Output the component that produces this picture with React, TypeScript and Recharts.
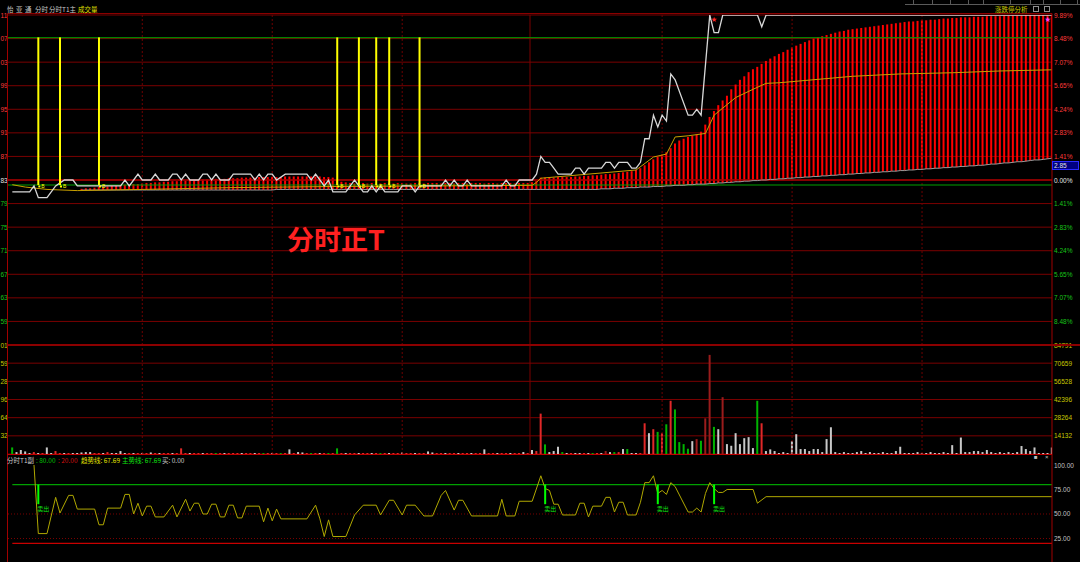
import React from "react";
import { ComposedChart, Bar, Line, XAxis, YAxis, CartesianGrid, ReferenceLine, Cell } from "recharts";

// ---------------- DATA ----------------
const BASE_PRICE = 2.83;
const MINUTES = 241;
const X_DOMAIN: [number, number] = [-1, 240];

const PRICE_TICKS = [3.11, 3.07, 3.03, 2.99, 2.95, 2.91, 2.87, 2.83, 2.79, 2.75, 2.71, 2.67, 2.63, 2.59, 2.55];
// the left price column is cut by the window edge: only the last two digits show
const PRICE_LEFT_LABELS = ["11", "07", "03", "99", "95", "91", "87", "83", "79", "75", "71", "67", "63", "59", ""];
const PCT_RIGHT_LABELS = ["9.89%", "8.48%", "7.07%", "5.65%", "4.24%", "2.83%", "1.41%", "0.00%", "1.41%", "2.83%", "4.24%", "5.65%", "7.07%", "8.48%", ""];

const VOL_TICKS = [84791, 70659, 56528, 42396, 28264, 14132, 0];
const VOL_LEFT_LABELS = ["01", "59", "28", "96", "64", "32", ""];
const VOL_LABELS = ["84791", "70659", "56528", "42396", "28264", "14132", ""];

const IND_TICKS = [100, 75, 50, 25];
const IND_LABELS = ["100.00", "75.00", "50.00", "25.00"];

const VLINES_DASHED = [30, 60, 90, 150, 180, 210];
const MIDDAY = 119.5;

// white price line vertices [minute, price]
const PRICE_PTS: [number, number][] = [
  [0, 2.81], [4, 2.81], [5, 2.82], [6, 2.80], [8, 2.80], [10, 2.82], [12, 2.83], [14, 2.83], [15, 2.82], [25, 2.82],
  [26, 2.83], [27, 2.82], [28, 2.83], [29, 2.84], [30, 2.83], [32, 2.83], [33, 2.84], [34, 2.83], [36, 2.83], [37, 2.84],
  [38, 2.84], [39, 2.83], [40, 2.84], [41, 2.83], [43, 2.83], [44, 2.84], [45, 2.84], [46, 2.83], [47, 2.84], [48, 2.83],
  [50, 2.83], [51, 2.84], [55, 2.84], [56, 2.83], [57, 2.84], [58, 2.83], [59, 2.84], [60, 2.84], [61, 2.83], [63, 2.84],
  [68, 2.84], [69, 2.83], [70, 2.84], [71, 2.83], [72, 2.82], [73, 2.83], [74, 2.81], [77, 2.81], [78, 2.82], [79, 2.83],
  [80, 2.82], [81, 2.81], [82, 2.81], [83, 2.82], [84, 2.81], [85, 2.82], [86, 2.81], [89, 2.81], [90, 2.82], [92, 2.82],
  [93, 2.81], [94, 2.82], [99, 2.82], [100, 2.83], [101, 2.82], [102, 2.83], [103, 2.82], [104, 2.82], [105, 2.83], [106, 2.82],
  [113, 2.82], [114, 2.83], [115, 2.82], [116, 2.82], [117, 2.83], [120, 2.83], [121, 2.84], [122, 2.87], [123, 2.86], [124, 2.86],
  [125, 2.85], [126, 2.84], [129, 2.84], [130, 2.85], [131, 2.85], [132, 2.84], [133, 2.85], [136, 2.85], [137, 2.86], [138, 2.86],
  [139, 2.85], [140, 2.86], [142, 2.86], [143, 2.85], [144, 2.85], [145, 2.86], [146, 2.90], [147, 2.90], [148, 2.94], [149, 2.92],
  [150, 2.94], [151, 2.93], [152, 3.01], [153, 3.00], [156, 2.94], [157, 2.94], [158, 2.95], [159, 2.94], [161, 3.11], [162, 3.08],
  [163, 3.08], [164, 3.11], [172, 3.11], [173, 3.09], [174, 3.11], [240, 3.11],
];

// average price line vertices
const AVG_PTS: [number, number][] = [
  [0, 2.822], [3, 2.818], [8, 2.814], [15, 2.812], [30, 2.814], [50, 2.817], [75, 2.819], [100, 2.820], [120, 2.821],
  [121, 2.826], [122, 2.833], [144, 2.847], [148, 2.869], [151, 2.874], [153, 2.903], [156, 2.905], [160, 2.909],
  [162, 2.94], [164, 2.952], [167, 2.97], [171, 2.984], [174, 2.994], [177, 2.995], [194, 3.006], [205, 3.010],
  [217, 3.012], [228, 3.015], [240, 3.017],
];

// red range bars (main indicator), minute 16..240
const BAR_START = 16;
const BAR_HI = [
  2.815, 2.816, 2.816, 2.817, 2.818, 2.818, 2.819, 2.820, 2.820, 2.821,
  2.822, 2.822, 2.823, 2.823, 2.824, 2.825, 2.825, 2.826, 2.826, 2.827,
  2.827, 2.828, 2.828, 2.829, 2.829, 2.830, 2.830, 2.830, 2.831, 2.831,
  2.831, 2.832, 2.832, 2.832, 2.833, 2.833, 2.833, 2.834, 2.834, 2.834,
  2.834, 2.835, 2.835, 2.835, 2.835, 2.835, 2.835, 2.836, 2.836, 2.836,
  2.836, 2.836, 2.836, 2.836, 2.836, 2.836, 2.835, 2.835, 2.834, 2.830,
  2.827, 2.826, 2.825, 2.824, 2.825, 2.825, 2.824, 2.825, 2.824, 2.824,
  2.825, 2.825, 2.824, 2.825, 2.825, 2.824, 2.824, 2.825, 2.825, 2.824,
  2.825, 2.825, 2.825, 2.824, 2.825, 2.825, 2.824, 2.825, 2.825, 2.824,
  2.825, 2.825, 2.825, 2.824, 2.825, 2.825, 2.824, 2.825, 2.825, 2.825,
  2.824, 2.825, 2.825, 2.825, 2.826, 2.828, 2.834, 2.834, 2.834, 2.834,
  2.835, 2.835, 2.835, 2.835, 2.836, 2.836, 2.837, 2.837, 2.838, 2.838,
  2.839, 2.840, 2.840, 2.841, 2.842, 2.843, 2.844, 2.845, 2.847, 2.850,
  2.855, 2.860, 2.865, 2.869, 2.873, 2.877, 2.884, 2.892, 2.897, 2.900,
  2.903, 2.905, 2.907, 2.912, 2.924, 2.937, 2.947, 2.957, 2.965, 2.973,
  2.984, 2.992, 3.000, 3.006, 3.013, 3.018, 3.022, 3.027, 3.032, 3.036,
  3.040, 3.044, 3.047, 3.051, 3.055, 3.058, 3.061, 3.064, 3.067, 3.070,
  3.072, 3.074, 3.076, 3.078, 3.080, 3.082, 3.083, 3.085, 3.086, 3.087,
  3.088, 3.089, 3.090, 3.091, 3.092, 3.093, 3.094, 3.095, 3.096, 3.097,
  3.098, 3.099, 3.099, 3.100, 3.101, 3.101, 3.102, 3.102, 3.103, 3.104,
  3.104, 3.105, 3.105, 3.106, 3.106, 3.106, 3.107, 3.107, 3.107, 3.108,
  3.108, 3.108, 3.108, 3.109, 3.109, 3.109, 3.109, 3.109, 3.110, 3.110,
  3.110, 3.110, 3.110, 3.110, 3.110,
];
const BAR_LO = [
  2.813, 2.813, 2.813, 2.813, 2.813, 2.813, 2.813, 2.813, 2.813, 2.813,
  2.813, 2.813, 2.813, 2.813, 2.813, 2.813, 2.813, 2.813, 2.813, 2.813,
  2.813, 2.813, 2.813, 2.813, 2.813, 2.813, 2.813, 2.813, 2.813, 2.813,
  2.813, 2.813, 2.813, 2.813, 2.813, 2.813, 2.813, 2.813, 2.813, 2.813,
  2.813, 2.813, 2.813, 2.813, 2.813, 2.814, 2.814, 2.814, 2.814, 2.814,
  2.814, 2.814, 2.814, 2.814, 2.814, 2.814, 2.814, 2.814, 2.814, 2.814,
  2.814, 2.814, 2.814, 2.814, 2.814, 2.814, 2.814, 2.814, 2.814, 2.814,
  2.814, 2.814, 2.814, 2.814, 2.814, 2.814, 2.814, 2.814, 2.814, 2.814,
  2.814, 2.814, 2.814, 2.814, 2.814, 2.814, 2.814, 2.814, 2.814, 2.814,
  2.814, 2.814, 2.814, 2.814, 2.814, 2.814, 2.814, 2.814, 2.814, 2.814,
  2.814, 2.814, 2.814, 2.814, 2.814, 2.814, 2.814, 2.814, 2.814, 2.814,
  2.814, 2.814, 2.814, 2.814, 2.814, 2.814, 2.814, 2.814, 2.814, 2.814,
  2.815, 2.815, 2.815, 2.816, 2.816, 2.816, 2.817, 2.817, 2.817, 2.818,
  2.818, 2.818, 2.819, 2.819, 2.819, 2.820, 2.820, 2.821, 2.821, 2.821,
  2.822, 2.822, 2.823, 2.823, 2.823, 2.824, 2.824, 2.825, 2.825, 2.826,
  2.826, 2.827, 2.827, 2.828, 2.828, 2.829, 2.829, 2.830, 2.830, 2.831,
  2.831, 2.832, 2.832, 2.833, 2.833, 2.834, 2.834, 2.835, 2.835, 2.836,
  2.836, 2.837, 2.837, 2.838, 2.838, 2.839, 2.839, 2.840, 2.840, 2.841,
  2.841, 2.842, 2.842, 2.843, 2.843, 2.844, 2.844, 2.845, 2.845, 2.846,
  2.846, 2.847, 2.847, 2.848, 2.848, 2.849, 2.849, 2.850, 2.850, 2.851,
  2.851, 2.852, 2.852, 2.853, 2.853, 2.854, 2.854, 2.855, 2.855, 2.856,
  2.857, 2.857, 2.858, 2.859, 2.859, 2.860, 2.861, 2.861, 2.862, 2.863,
  2.864, 2.864, 2.865, 2.866, 2.867,
];

// yellow buy signals (minutes) between the two green lines
const SIGNAL_T = [6, 11, 20, 75, 80, 84, 87, 94];
const SIGNAL_LOW = 2.8215;
const SIGNAL_HIGH = 3.072;
const SIGNAL_MARK = 2.819;
const STARS: [number, number, string][] = [[162, 3.103, "#ff2a2a"], [239, 3.103, "#ff40ff"]];

// volume per minute
const VOLUME = [
  5100, 1500, 3100, 2000, 800, 1500, 800, 800, 5100, 800,
  2300, 800, 800, 800, 800, 800, 1200, 1500, 1500, 800,
  800, 800, 1500, 800, 800, 2300, 800, 800, 800, 800,
  800, 800, 1200, 800, 800, 800, 800, 800, 800, 4400,
  800, 800, 800, 800, 800, 800, 800, 800, 800, 800,
  800, 800, 800, 800, 800, 800, 800, 800, 800, 800,
  800, 800, 800, 800, 3600, 800, 1500, 1200, 800, 800,
  800, 800, 800, 800, 800, 4400, 800, 800, 800, 800,
  800, 800, 800, 800, 800, 800, 800, 800, 800, 800,
  1200, 800, 800, 800, 800, 800, 2000, 1200, 800, 800,
  800, 800, 800, 800, 800, 800, 800, 800, 800, 3600,
  800, 800, 800, 800, 800, 800, 800, 800, 1500, 800,
  3100, 2300, 31400, 7470, 1500, 2300, 5650, 1500, 800, 800,
  800, 800, 800, 800, 800, 800, 800, 2300, 1500, 1500,
  1500, 3850, 3850, 800, 800, 800, 23900, 16200, 19300, 17200,
  16200, 23100, 41400, 34700, 9250, 7700, 4100, 10000, 11600, 10300,
  27700, 77100, 21100, 19300, 44200, 7700, 6400, 16200, 7700, 12300,
  13100, 4600, 41400, 23900, 2300, 3600, 2300, 800, 1500, 800,
  10000, 15400, 3850, 3850, 2300, 3850, 3850, 1500, 11600, 20800,
  1500, 800, 1500, 800, 800, 1500, 2300, 800, 1500, 800,
  800, 1500, 800, 800, 2300, 5650, 800, 800, 800, 1500,
  800, 800, 1500, 800, 800, 1500, 800, 6900, 800, 12800,
  1500, 1500, 2300, 2300, 1500, 3100, 1500, 800, 1500, 800,
  1500, 800, 1500, 6200, 3850, 2300, 5100, 800, 800, 800,
  5100,
];
const VOL_COLOR_CODES = [
  "gwwwwrwrww", "rrwrwwwwwr", "rwrwwwwrwr", "wrwrwrrwrr", "rwrrwrrgrw",
  "rrrwrrwrgr", "wrgrwrwwrg", "rwrgrgrwrr", "wrrwrgrwrr", "wrrwrrwwrr",
  "wrrwrrwrrw", "rrwrrwrrwr", "wrrgwwwgwr", "wwrwgrwdwg", "rwgwwrrwrg",
  "rgrggggwdg", "ddgwdwwwww", "wwgrwwwwww", "wwwwwwwwww", "wwwwwwwwww",
  "wwwwwwwwww", "wwwwwwwwww", "wwwwwwwwww", "wwwwwwwwww", "w",
].join("");

// sub indicator (趋势线) vertices [minute, value]
const IND_PTS: [number, number][] = [
  [5, 100], [6, 30], [8, 30], [10, 67], [11, 51], [13, 69], [14, 69], [15, 55], [19, 55], [20, 39],
  [21, 39], [22, 56], [25, 56], [26, 70], [27, 70], [28, 50], [29, 61], [30, 48], [31, 58], [32, 58],
  [33, 47], [35, 47], [37, 59], [38, 47], [40, 65], [41, 53], [42, 61], [43, 61], [44, 50], [45, 50],
  [46, 60], [47, 60], [48, 47], [49, 47], [50, 59], [51, 59], [52, 46], [53, 46], [54, 58], [57, 58],
  [58, 42], [59, 56], [60, 43], [61, 55], [62, 45], [68, 45], [70, 59], [71, 45], [72, 27], [73, 44],
  [74, 27], [77, 27], [79, 49], [81, 59], [84, 59], [85, 49], [87, 64], [88, 64], [90, 49], [91, 59],
  [93, 59], [95, 48], [97, 48], [99, 69], [100, 74], [102, 54], [103, 64], [104, 64], [106, 48], [112, 48],
  [113, 65], [114, 48], [116, 48], [117, 63], [120, 63], [122, 89], [123, 76], [124, 74], [125, 60], [126, 60],
  [127, 49], [130, 49], [131, 61], [132, 61], [133, 47], [134, 58], [136, 58], [137, 67], [138, 67], [139, 52],
  [140, 62], [141, 62], [142, 49], [144, 49], [145, 62], [146, 82], [147, 82], [148, 89], [149, 71], [150, 74],
  [151, 70], [152, 82], [153, 78], [156, 52], [157, 52], [158, 56], [159, 52], [160, 71], [161, 82], [162, 76],
  [163, 72], [164, 72], [165, 75], [171, 75], [172, 61], [174, 67.69], [240, 67.69],
];
const SELL_T = [6, 123, 149, 162];
const SELL_TOP = 80;
const SELL_BOTTOM = 60;
const SELL_LABEL_AT = 56;

// ---------------- TABLE ----------------
const priceMap = new Map(PRICE_PTS);
const avgMap = new Map(AVG_PTS);
const indMap = new Map(IND_PTS);
const starMap = new Map(STARS.map((s) => [s[0], s]));

const rows = Array.from({ length: MINUTES }, (_, t) => {
  const k = t - BAR_START;
  const hasBar = k >= 0 && k < BAR_HI.length;
  return {
    t,
    px: priceMap.has(t) ? priceMap.get(t) : null,
    avg: avgMap.has(t) ? avgMap.get(t) : null,
    rb: hasBar ? [BAR_LO[k], BAR_HI[k]] : null,
    lo: hasBar ? BAR_LO[k] : null,
    vol: VOLUME[t],
    vc: VOL_COLOR_CODES[t],
    ind: indMap.has(t) ? indMap.get(t) : null,
    sig: SIGNAL_T.includes(t) ? SIGNAL_MARK : null,
    star: starMap.has(t) ? starMap.get(t)![1] : null,
    starColor: starMap.has(t) ? starMap.get(t)![2] : null,
    sell: SELL_T.includes(t) ? SELL_LABEL_AT : null,
  };
});

// ---------------- STYLE ----------------
const W = 1080;
const RIGHT_M = 28;
const AXIS_W = 8;
const NUM_FONT = "'Liberation Sans', Arial, sans-serif";
const CJK_FONT = "'Noto Sans CJK SC', 'Noto Sans', sans-serif";
const GRID = "#7a0000";
const VOL_COLORS: Record<string, string> = { r: "#e02828", d: "#9a1c1c", g: "#00b400", w: "#c8c8c8" };

const findIdx = (ticks: number[], v: number) => ticks.findIndex((x) => Math.abs(x - v) < 1e-6);

const MainTick = (props: any) => {
  const { y, payload } = props;
  const i = findIdx(PRICE_TICKS, payload.value);
  if (i < 0 || !PRICE_LEFT_LABELS[i]) return <g />;
  const c = i < 7 ? "#ff3a3a" : i === 7 ? "#e6e6e6" : "#19c419";
  return (
    <g>
      <text x={0.5} y={y + 2.5} fill={c} fontSize={6.5} fontFamily={NUM_FONT}>{PRICE_LEFT_LABELS[i]}</text>
      <text x={1054} y={y + 2.5} fill={c} fontSize={6.5} fontFamily={NUM_FONT}>{PCT_RIGHT_LABELS[i]}</text>
    </g>
  );
};

const VolTick = (props: any) => {
  const { y, payload } = props;
  const i = findIdx(VOL_TICKS, payload.value);
  if (i < 0 || !VOL_LABELS[i]) return <g />;
  return (
    <g>
      <text x={0.5} y={y + 2.5} fill="#c8c800" fontSize={6.5} fontFamily={NUM_FONT}>{VOL_LEFT_LABELS[i]}</text>
      <text x={1054} y={y + 2.5} fill="#c8c800" fontSize={6.5} fontFamily={NUM_FONT}>{VOL_LABELS[i]}</text>
    </g>
  );
};

const IndTick = (props: any) => {
  const { y, payload } = props;
  const i = findIdx(IND_TICKS, payload.value);
  if (i < 0) return <g />;
  return <text x={1054} y={y + 2.5} fill="#c0c0c0" fontSize={6.5} fontFamily={NUM_FONT}>{IND_LABELS[i]}</text>;
};

const SigDot = (p: any) => {
  if (p.value == null || p.cy == null || isNaN(p.cy)) return <g key={`s${p.index}`} />;
  return (
    <g key={`s${p.index}`}>
      <rect x={p.cx} y={p.cy - 1} width={2} height={2} fill="#ffff00" />
      <text x={p.cx + 3} y={p.cy + 2} fill="#ffff00" fontSize={5} fontFamily={NUM_FONT}>B</text>
    </g>
  );
};

const StarDot = (p: any) => {
  if (p.value == null || p.cy == null || isNaN(p.cy)) return <g key={`st${p.index}`} />;
  return (
    <text key={`st${p.index}`} x={p.cx} y={p.cy + 2} textAnchor="middle" fill={p.payload.starColor} fontSize={6} fontFamily={CJK_FONT}>★</text>
  );
};

const SellDot = (p: any) => {
  if (p.value == null || p.cy == null || isNaN(p.cy)) return <g key={`x${p.index}`} />;
  return (
    <text key={`x${p.index}`} x={p.cx - 1} y={p.cy + 3} fill="#10e010" fontSize={6} fontFamily={CJK_FONT}>卖出</text>
  );
};

const vRefs = () => [
  ...VLINES_DASHED.map((v) => <ReferenceLine key={`v${v}`} x={v} stroke="#6e0000" strokeDasharray="2 2" />),
  <ReferenceLine key="mid" x={MIDDAY} stroke="#7a0000" />,
];

export default function App() {
  return (
    <div style={{ position: "fixed", left: 0, top: 0, width: W, height: 562, background: "#000", overflow: "hidden" }}>
      {/* main price panel */}
      <div style={{ position: "absolute", left: 0, top: 0 }}>
        <ComposedChart width={W} height={346} data={rows} margin={{ top: 15, right: RIGHT_M, bottom: 1, left: 0 }}>
          <CartesianGrid vertical={false} stroke={GRID} />
          <XAxis dataKey="t" type="number" domain={X_DOMAIN} hide allowDataOverflow />
          <YAxis type="number" domain={[2.55, 3.11]} ticks={PRICE_TICKS} interval={0} width={AXIS_W}
            axisLine={false} tickLine={false} tick={MainTick} allowDataOverflow />
          {vRefs()}
          <ReferenceLine y={BASE_PRICE} stroke="#a00000" strokeWidth={1.5} />
          <ReferenceLine y={SIGNAL_HIGH - 0.0005} stroke="#00a000" />
          <ReferenceLine y={SIGNAL_LOW} stroke="#00a000" />
          <Bar dataKey="rb" fill="#ff0000" barSize={2} isAnimationActive={false} />
          <Line dataKey="lo" type="linear" stroke="#9a9a9a" strokeWidth={1} dot={false} connectNulls isAnimationActive={false} />
          <Line dataKey="avg" type="linear" stroke="#c8a000" strokeWidth={1} dot={false} connectNulls isAnimationActive={false} />
          <Line dataKey="px" type="linear" stroke="#d8d8d8" strokeWidth={1.3} dot={false} connectNulls isAnimationActive={false} />
          {SIGNAL_T.map((t) => (
            <ReferenceLine key={`sg${t}`} segment={[{ x: t, y: SIGNAL_LOW }, { x: t, y: SIGNAL_HIGH }]} stroke="#ffff00" strokeWidth={2} />
          ))}
          <Line dataKey="sig" stroke="none" dot={SigDot} isAnimationActive={false} />
          <Line dataKey="star" stroke="none" dot={StarDot} isAnimationActive={false} />
        </ComposedChart>
      </div>

      {/* volume panel */}
      <div style={{ position: "absolute", left: 0, top: 340 }}>
        <ComposedChart width={W} height={115} data={rows} margin={{ top: 5, right: RIGHT_M, bottom: 1, left: 0 }}>
          <CartesianGrid vertical={false} stroke={GRID} />
          <XAxis dataKey="t" type="number" domain={X_DOMAIN} hide allowDataOverflow />
          <YAxis type="number" domain={[0, 84791]} ticks={VOL_TICKS} interval={0} width={AXIS_W}
            axisLine={false} tickLine={false} tick={VolTick} allowDataOverflow />
          {vRefs()}
          <Bar dataKey="vol" barSize={2} isAnimationActive={false}>
            {rows.map((r, i) => <Cell key={i} fill={VOL_COLORS[r.vc] || "#c8c8c8"} />)}
          </Bar>
        </ComposedChart>
      </div>

      {/* sub indicator panel */}
      <div style={{ position: "absolute", left: 0, top: 455 }}>
        <ComposedChart width={W} height={107} data={rows} margin={{ top: 10, right: RIGHT_M, bottom: 0, left: 0 }}>
          <XAxis dataKey="t" type="number" domain={X_DOMAIN} hide allowDataOverflow />
          <YAxis type="number" domain={[1, 100]} ticks={IND_TICKS} interval={0} width={AXIS_W}
            axisLine={false} tickLine={false} tick={IndTick} allowDataOverflow />
          <ReferenceLine y={50} stroke="#7a0000" strokeDasharray="1 2" />
          <ReferenceLine y={25} stroke="#7a0000" strokeDasharray="1 2" />
          <ReferenceLine segment={[{ x: 0, y: 80 }, { x: 240, y: 80 }]} stroke="#00a000" strokeWidth={1.2} />
          <ReferenceLine segment={[{ x: 0, y: 20 }, { x: 240, y: 20 }]} stroke="#c80000" strokeWidth={1.2} />
          <Line dataKey="ind" type="linear" stroke="#b0a800" strokeWidth={1} dot={false} connectNulls isAnimationActive={false} />
          {SELL_T.map((t) => (
            <ReferenceLine key={`sl${t}`} segment={[{ x: t, y: SELL_TOP }, { x: t, y: SELL_BOTTOM }]} stroke="#00ff00" strokeWidth={2} />
          ))}
          <Line dataKey="sell" stroke="none" dot={SellDot} isAnimationActive={false} />
        </ComposedChart>
      </div>

      {/* frame and captions */}
      <svg width={W} height={562} style={{ position: "absolute", left: 0, top: 0, pointerEvents: "none" }}>
        <line x1={7.5} y1={13.5} x2={1052} y2={13.5} stroke="#8a0000" />
        <line x1={7.5} y1={13.5} x2={7.5} y2={562} stroke="#a00000" />
        <line x1={1052} y1={13.5} x2={1052} y2={562} stroke="#a00000" />
        <line x1={7.5} y1={345} x2={1080} y2={345} stroke="#8c0000" strokeWidth={2} />
        <line x1={7.5} y1={454.5} x2={1052} y2={454.5} stroke="#c00000" />
        {[913, 932, 950, 968, 983, 1010, 1030, 1043, 1060, 1077].map((x) => (
          <line key={x} x1={x + 0.5} y1={0} x2={x + 0.5} y2={4} stroke="#5a5a5a" />
        ))}
        <line x1={905} y1={4.5} x2={1080} y2={4.5} stroke="#5a5a5a" />

        <g fontFamily={CJK_FONT} fontSize={6.5}>
          <text x={7} y={12} fill="#c8c8c8">怡</text>
          <text x={16} y={12} fill="#c8c8c8">亚</text>
          <text x={25} y={12} fill="#c8c8c8">通</text>
          <text x={35} y={12} fill="#c8c8c8">分时</text>
          <text x={49} y={12} fill="#c8c8c8">分时T1主</text>
          <text x={78} y={12} fill="#e0e000">成交量</text>
          <text x={995} y={11.5} fill="#c8c800">涨跌停分析</text>
        </g>
        <rect x={1033.5} y={6.5} width={5} height={5} fill="none" stroke="#909090" />
        <rect x={1044.5} y={6.5} width={5} height={5} fill="none" stroke="#909090" />

        <rect x={1052.5} y={161.5} width={26} height={8} fill="#000080" stroke="#2a2aff" />
        <text x={1054} y={168} fill="#e0e0e0" fontSize={6.5} fontFamily={NUM_FONT}>2.85</text>

        <text x={287} y={250} fill="#ff2020" fontSize={27} fontWeight="bold" fontFamily={CJK_FONT}>分时正T</text>

        <g fontFamily={CJK_FONT} fontSize={6.5}>
          <text x={7} y={462.5} fill="#c8c8c8">分时T1副</text>
          <text x={36} y={462.5} fill="#00c000">: 80.00</text>
          <text x={58} y={462.5} fill="#d01010">: 20.00</text>
          <text x={81} y={462.5} fill="#e0e000">趋势线: 67.69</text>
          <text x={122} y={462.5} fill="#10e010">主势线: 67.69</text>
          <text x={162} y={462.5} fill="#c0c0c0">买: 0.00</text>
        </g>
        <text x={1034} y={459} fill="#c0c0c0" fontSize={6} fontFamily={NUM_FONT}>■</text>
        <text x={1045} y={459} fill="#c0c0c0" fontSize={6} fontFamily={NUM_FONT}>×</text>
      </svg>
    </div>
  );
}
